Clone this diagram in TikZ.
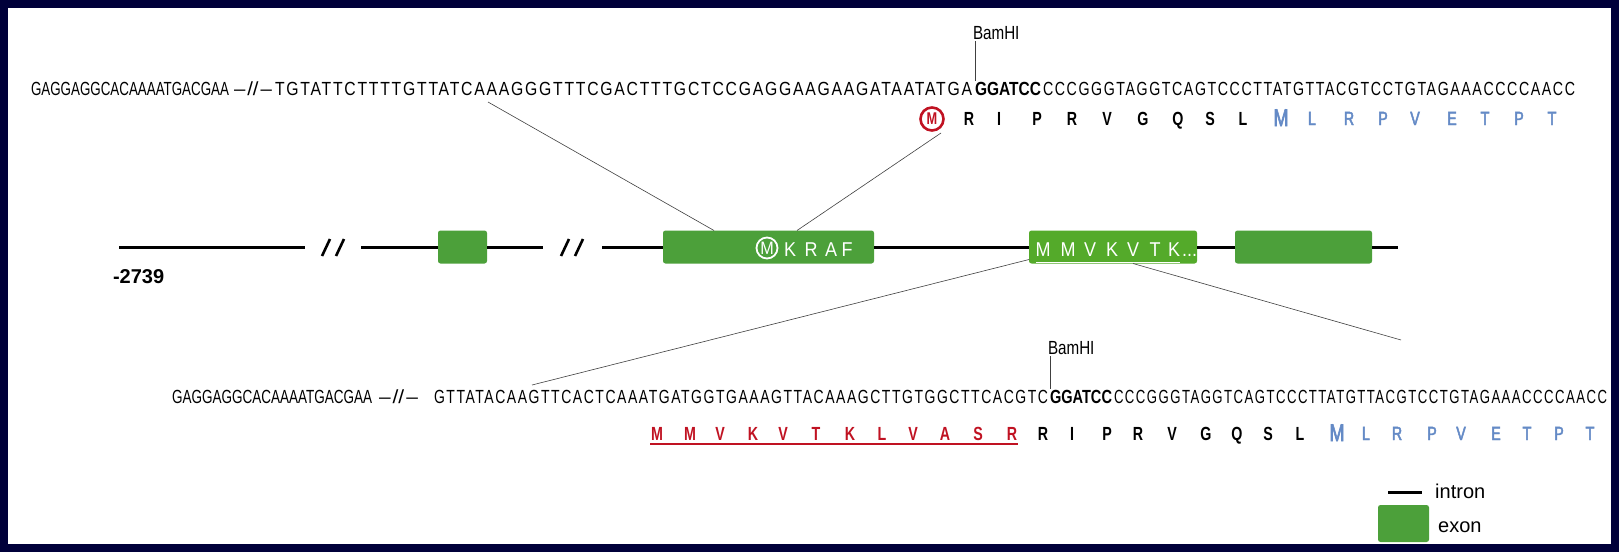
\documentclass[tikz,border=0pt]{standalone}
\usepackage{fontspec}
\usepackage{graphicx}
\setmainfont{Liberation Sans}
\newfontfamily\seqfont[FakeStretch=0.72,LetterSpace=8]{Liberation Sans}
\newfontfamily\leadfont[FakeStretch=0.8]{Liberation Sans}
\newfontfamily\aafont[FakeStretch=0.75]{Liberation Sans}
\newfontfamily\aamed[FakeStretch=0.75,FakeBold=2.5]{Liberation Sans}
\newfontfamily\boxfont[FakeStretch=0.9]{Liberation Sans}
\definecolor{navy}{RGB}{0,0,58}
\definecolor{exongreen}{RGB}{76,160,58}
\definecolor{exongreenb}{RGB}{84,170,42}
\definecolor{aared}{RGB}{192,18,34}
\definecolor{aablue}{RGB}{100,138,198}
\newcommand{\fitw}[2]{\resizebox{#1}{\height}{#2}}
\tikzset{
  seq/.style={anchor=base west, inner sep=0pt, outer sep=0pt, font=\fontsize{19}{20}\selectfont},
  aa/.style={anchor=base, inner sep=0pt, outer sep=0pt, font=\aafont\bfseries\fontsize{19}{20}\selectfont},
  aab/.style={anchor=base, inner sep=0pt, outer sep=0pt, text=aablue, font=\aamed\fontsize{19}{20}\selectfont},
  exon/.style={fill=exongreen, rounded corners=2.5pt, inner sep=0pt, outer sep=0pt, anchor=north west},
  intron/.style={line width=3pt, black},
  conn/.style={line width=0.6pt, black!75},
  slash/.style={line width=2.6pt, black},
  boxtxt/.style={anchor=base, inner sep=0pt, text=white, font=\boxfont\fontsize{20}{22}\selectfont},
  legtxt/.style={anchor=base west, inner sep=0pt, font=\fontsize{20}{22}\selectfont},
}
\begin{document}
\begin{tikzpicture}[x=1pt,y=-1pt]
\fill[navy] (0,0) rectangle (1619,552);
\fill[white] (8,8) rectangle (1611,544);
\useasboundingbox (0,0) rectangle (1619,552);

% ---------- top sequence ----------
\node[seq] (t1) at (31,95) {\fitw{198pt}{\leadfont GAGGAGGCACAAAATGACGAA}};
\node[seq] (t2) at (234,95) {\fitw{38pt}{\leadfont –\kern1.5pt//\kern1.5pt–}};
\node[seq] (t3) at (275,95) {\fitw{697pt}{\seqfont TGTATTCTTTTGTTATCAAAGGGTTTCGACTTTGCTCCGAGGAAGAAGATAATATGA}};
\node[seq] (t4) at (975,95) {\fitw{66pt}{\leadfont\bfseries GGATCC}};
\node[seq] (t5) at (1043,95) {\fitw{532pt}{\seqfont CCCGGGTAGGTCAGTCCCTTATGTTACGTCCTGTAGAAACCCCAACC}};
\node[seq, font=\leadfont\fontsize{19}{20}\selectfont] (bam1) at (973,39) {BamHI};
\draw[conn] ([xshift=2pt,yshift=-2pt]bam1.south west) -- ([yshift=1pt]t4.north west);

% ---------- top amino acids ----------
\node[circle, draw=aared, line width=2.6pt, minimum size=23pt, inner sep=0pt, text=aared,
      font=\aafont\bfseries\fontsize{17}{17}\selectfont] (tm) at (932,119) {M};
\foreach \x/\l [count=\i] in {969/R,999/I,1037/P,1072/R,1107/V,1143/G,1178/Q,1210/S,1243/L}
  \node[aa] (ta\i) at (\x,125) {\l};
\node[aab, font=\aamed\fontsize{24}{24}\selectfont] (tbm) at (1281,126) {M};
\foreach \x/\l [count=\i] in {1312/L,1349/R,1383/P,1415/V,1452/E,1485/T,1519/P,1552/T}
  \node[aab] (tb\i) at (\x,125) {\l};

% ---------- gene structure ----------
\node[exon, minimum width=49pt, minimum height=33pt] (e1) at (438,230.5) {};
\node[exon, minimum width=211pt, minimum height=33pt] (e2) at (663,230.5) {};
\node[exon, fill=exongreenb, minimum width=168pt, minimum height=33pt] (e3) at (1029,230.5) {};
\node[exon, minimum width=137pt, minimum height=33pt] (e4) at (1235,230.5) {};
\coordinate (i1a) at (119,247);
\coordinate (i1b) at (305,247);
\coordinate (i2a) at (361,247);
\coordinate (i3b) at (543,247);
\coordinate (i4a) at (602,247);
\coordinate (i7b) at (1398,247);
\draw[intron] (i1a) -- (i1b);
\draw[intron] (i2a) -- (e1.west);
\draw[intron] (e1.east) -- (i3b);
\draw[intron] (i4a) -- (e2.west);
\draw[intron] (e2.east) -- (e3.west);
\draw[intron] (e3.east) -- (e4.west);
\draw[intron] (e4.east) -- (i7b);
\draw[slash] (322,256) -- (330,239);
\draw[slash] (336,256) -- (344,239);
\draw[slash] (561,256) -- (569,239);
\draw[slash] (575,256) -- (583,239);
\node[seq, font=\bfseries\fontsize{20}{22}\selectfont] (num) at (113,283) {-2739};

% text in exon 2
\node[circle, draw=white, line width=1.8pt, minimum size=21pt, inner sep=0pt, text=white,
      font=\boxfont\fontsize{18}{18}\selectfont] (km) at (767,248) {M};
\foreach \x/\l [count=\i] in {790/K,811/R,831/A,847/F}
  \node[boxtxt] (kr\i) at (\x,256) {\l};
% text in exon 3
\foreach \x/\l [count=\i] in {1043/M,1068/M,1090/V,1112/K,1133/V,1155/T,1174/K}
  \node[boxtxt] (mv\i) at (\x,256) {\l};
\node[boxtxt, anchor=base west] (dots) at (1182,256) {...};
\draw[white, line width=1pt] ([xshift=-7pt,yshift=-6pt]mv1.south) -- ([xshift=6pt,yshift=-6pt]mv7.south);

% connectors
\coordinate (tl) at (488,102);
\coordinate (tr) at (941,133);
\coordinate (bl) at (532,385);
\coordinate (br) at (1401,340);
\draw[conn] (tl) -- ([xshift=51pt]e2.north west);
\draw[conn] ([xshift=134pt]e2.north west) -- (tr);
\draw[conn] ([yshift=4pt]e3.south west) -- (bl);
\draw[conn] ([xshift=104pt]e3.south west) -- (br);

% ---------- bottom sequence ----------
\node[seq] (b1) at (172,403) {\fitw{200pt}{\leadfont GAGGAGGCACAAAATGACGAA}};
\node[seq] (b2) at (379,403) {\fitw{39pt}{\leadfont –\kern1.5pt//\kern1.5pt–}};
\node[seq] (b3) at (434,403) {\fitw{614pt}{\seqfont GTTATACAAGTTCACTCAAATGATGGTGAAAGTTACAAAGCTTGTGGCTTCACGTC}};
\node[seq] (b4) at (1050,403) {\fitw{62pt}{\leadfont\bfseries GGATCC}};
\node[seq] (b5) at (1114,403) {\fitw{493pt}{\seqfont CCCGGGTAGGTCAGTCCCTTATGTTACGTCCTGTAGAAACCCCAACC}};
\node[seq, font=\leadfont\fontsize{19}{20}\selectfont] (bam2) at (1048,354) {BamHI};
\draw[conn] ([xshift=2pt,yshift=-2pt]bam2.south west) -- ([yshift=1pt]b4.north west);

% ---------- bottom amino acids ----------
\foreach \x/\l [count=\i] in {657/M,690/M,720/V,753/K,783/V,816/T,850/K,882/L,913/V,945/A,978/S,1012/R}
  \node[aa, text=aared] (br\i) at (\x,440) {\l};
\draw[aared, line width=1.2pt] ([xshift=-7pt,yshift=-4pt]br1.south) -- ([xshift=6pt,yshift=-4pt]br12.south);
\foreach \x/\l [count=\i] in {1043/R,1072/I,1107/P,1138/R,1172/V,1206/G,1237/Q,1268/S,1300/L}
  \node[aa] (bk\i) at (\x,440) {\l};
\node[aab, font=\aamed\fontsize{24}{24}\selectfont] (bbm) at (1337,441) {M};
\foreach \x/\l [count=\i] in {1366/L,1397/R,1432/P,1461/V,1496/E,1527/T,1559/P,1590/T}
  \node[aab] (bb\i) at (\x,440) {\l};

% ---------- legend ----------
\coordinate (lg1) at (1388,492);
\coordinate (lg2) at (1422,492);
\draw[intron] (lg1) -- (lg2);
\node[legtxt] (lint) at (1435,498) {intron};
\node[exon, minimum width=51pt, minimum height=37pt] (lex) at (1378,505) {};
\node[legtxt] (lexo) at (1438,532) {exon};
\end{tikzpicture}
\end{document}
